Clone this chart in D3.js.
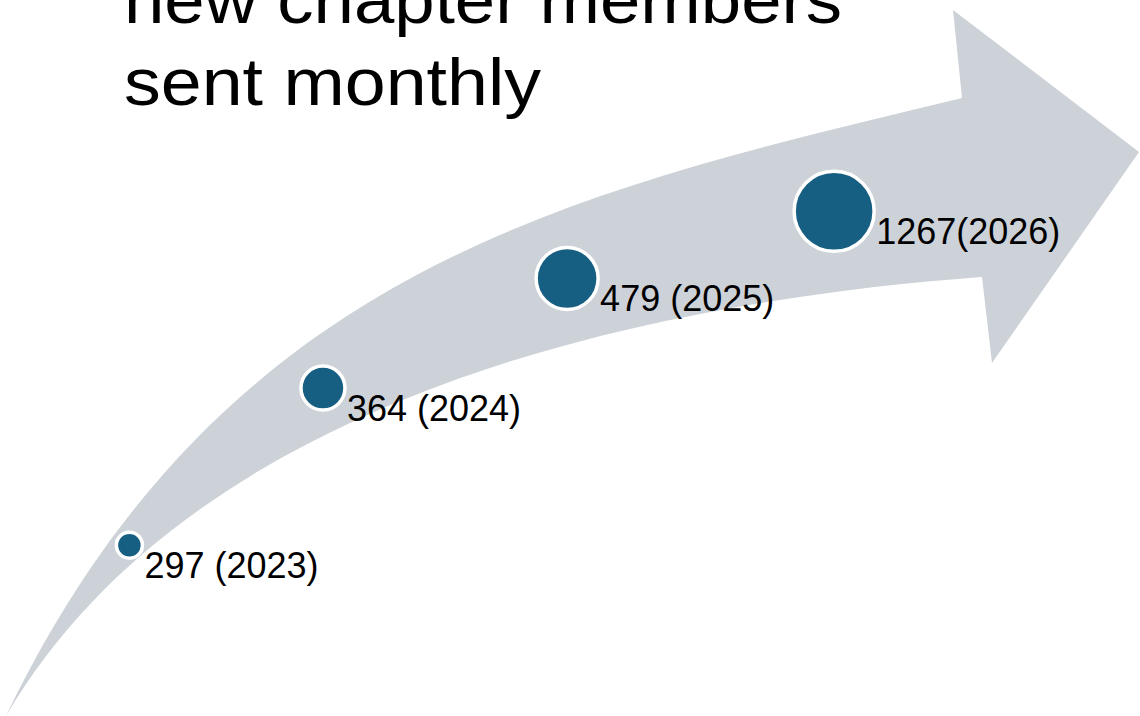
<!DOCTYPE html>
<html>
<head>
<meta charset="utf-8">
<script src="https://cdn.jsdelivr.net/npm/d3@7"></script>
<style>
  html, body { margin: 0; padding: 0; background: #ffffff; }
  svg { display: block; }
</style>
</head>
<body>
<div id="chart"></div>
<script>
// ---- data ----
const years = [2023, 2024, 2025, 2026];
const members = [297, 364, 479, 1267];
const labels = ["297 (2023)", "364 (2024)", "479 (2025)", "1267(2026)"];
const titleLines = ["new chapter members", "sent monthly"];

// ---- decorative arrow geometry (shape outline, not data) ----
// each edge: start, control 1, control 2, end (cubic Bezier)
const upperEdge = [[6,716],[223,266],[573,192],[962,98]];
const lowerEdge = [[6,716],[183,414],[603,305],[982,277]];
const arrowHead = [[953,10],[1139,152],[992,363]];

const W = 1140, H = 716;
const svg = d3.select("#chart").append("svg").attr("width", W).attr("height", H);

function bez(e) {
  const p = d3.path();
  p.moveTo(e[0][0], e[0][1]);
  p.bezierCurveTo(e[1][0], e[1][1], e[2][0], e[2][1], e[3][0], e[3][1]);
  return p;
}

const outlineP = d3.path();
outlineP.moveTo(upperEdge[0][0], upperEdge[0][1]);
outlineP.bezierCurveTo(upperEdge[1][0], upperEdge[1][1], upperEdge[2][0], upperEdge[2][1], upperEdge[3][0], upperEdge[3][1]);
arrowHead.forEach(p => outlineP.lineTo(p[0], p[1]));
outlineP.lineTo(lowerEdge[3][0], lowerEdge[3][1]);
outlineP.bezierCurveTo(lowerEdge[2][0], lowerEdge[2][1], lowerEdge[1][0], lowerEdge[1][1], lowerEdge[0][0], lowerEdge[0][1]);
outlineP.closePath();

svg.append("path").attr("d", outlineP.toString()).attr("fill", "#cdd2d8");

// hidden guide paths for placing marks along the arrow
const guides = svg.append("g").attr("visibility", "hidden");
const upNode = guides.append("path").attr("d", bez(upperEdge).toString()).node();
const loNode = guides.append("path").attr("d", bez(lowerEdge).toString()).node();
const Lu = upNode.getTotalLength(), Ll = loNode.getTotalLength();

const along = d3.scalePow().exponent(1.05).domain([0, years.length - 1]).range([0.1865, 0.878]);
const rScale = d3.scaleLinear().domain([0, years.length - 1]).range([13, 40]);

const pts = years.map((y, i) => {
  const t = along(i);
  const u = upNode.getPointAtLength(t * Lu);
  const l = loNode.getPointAtLength(t * Ll);
  return { year: y, value: members[i], label: labels[i], x: (u.x + l.x) / 2, y: (u.y + l.y) / 2 + 3 - i, r: rScale(i) };
});

const g = svg.append("g");
g.selectAll("circle").data(pts).join("circle")
  .attr("cx", d => d.x).attr("cy", d => d.y).attr("r", d => d.r)
  .attr("fill", "#175f82").attr("stroke", "#ffffff").attr("stroke-width", 3.5);

g.selectAll("text.lbl").data(pts).join("text").attr("class", "lbl")
  .attr("x", d => d.x + d.r + 2).attr("y", d => d.y + 33)
  .attr("font-family", "'Liberation Sans', Arial, sans-serif").attr("font-size", 36)
  .attr("fill", "#000").text(d => d.label);

// title (clipped at top as in the original)
const titleLens = [718, 417];
svg.append("g").selectAll("text").data(titleLines).join("text")
  .attr("x", 124).attr("y", (d, i) => 23 + i * 82)
  .attr("font-family", "'Liberation Sans', Arial, sans-serif").attr("font-size", 66)
  .attr("textLength", (d, i) => titleLens[i]).attr("lengthAdjust", "spacingAndGlyphs")
  .attr("fill", "#000").text(d => d);
</script>
</body>
</html>
